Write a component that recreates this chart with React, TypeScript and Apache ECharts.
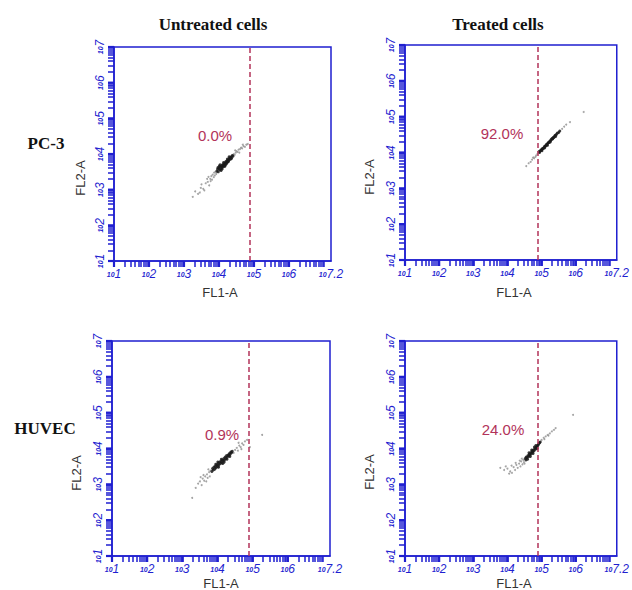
import React, { useEffect, useRef } from "react";
import * as echarts from "echarts";

// ---- data (exponents of 10) ----
const COL_TITLES = ["Untreated cells", "Treated cells"];
const ROW_TITLES = ["PC-3", "HUVEC"];
const PERCENTS = ["0.0%", "92.0%", "0.9%", "24.0%"];
const GATE_X = 4.89;
const X_LABEL_EXPS = [1, 2, 3, 4, 5, 6, 7.2];
const Y_LABEL_EXPS = [1, 2, 3, 4, 5, 6, 7];

const pc3UntreatedHalo = [
  [3.25, 2.8], [3.32, 2.95], [3.4, 2.88], [3.48, 3.05], [3.55, 3.02], [3.5, 3.15], [3.62, 3.18], [3.58, 2.98],
  [3.68, 3.22], [3.72, 3.12], [3.45, 2.92], [3.66, 3.3], [3.75, 3.3], [3.78, 3.38], [3.8, 3.28], [3.82, 3.42],
  [3.85, 3.35], [3.86, 3.48], [3.88, 3.4], [3.9, 3.5], [3.92, 3.44], [3.7, 3.36], [3.76, 3.24],
  [4.42, 4.0], [4.45, 3.98], [4.48, 4.04], [4.5, 4.08], [4.53, 4.06], [4.56, 4.12], [4.6, 4.14], [4.63, 4.18],
  [4.66, 4.16], [4.7, 4.22], [4.74, 4.2], [4.78, 4.26], [4.82, 4.28], [4.46, 4.1], [4.58, 4.04], [4.68, 4.26],
];
const pc3UntreatedCore = [
  [3.94, 3.52], [3.96, 3.58], [3.98, 3.5], [4.0, 3.6], [4.02, 3.56], [4.04, 3.64], [4.05, 3.58], [4.07, 3.66],
  [4.08, 3.62], [4.1, 3.7], [4.11, 3.64], [4.12, 3.68], [4.14, 3.72], [4.15, 3.66], [4.16, 3.74], [4.18, 3.7],
  [4.19, 3.78], [4.2, 3.74], [4.22, 3.8], [4.23, 3.76], [4.25, 3.82], [4.26, 3.78], [4.28, 3.86], [4.3, 3.84],
  [4.31, 3.88], [4.33, 3.9], [4.35, 3.92], [4.36, 3.88], [4.38, 3.96], [4.4, 3.94], [4.01, 3.66], [4.09, 3.58],
  [4.13, 3.76], [4.17, 3.66], [4.21, 3.72], [4.24, 3.86], [4.27, 3.8], [4.29, 3.92], [4.34, 3.86], [3.97, 3.62],
  [4.06, 3.54], [4.03, 3.7],
];
const pc3TreatedHalo = [
  [4.55, 3.62], [4.62, 3.7], [4.68, 3.74], [4.72, 3.8], [4.78, 3.84], [4.84, 3.92], [4.88, 3.96], [5.6, 4.66],
  [5.66, 4.72], [5.72, 4.78], [5.83, 4.85], [6.23, 5.13], [4.75, 3.86], [4.82, 3.88],
];
const pc3TreatedCore = [
  [4.92, 4.02], [4.95, 4.04], [4.98, 4.06], [5.0, 4.08], [5.02, 4.1], [5.04, 4.12], [5.06, 4.12], [5.08, 4.16],
  [5.1, 4.18], [5.12, 4.18], [5.14, 4.22], [5.16, 4.22], [5.18, 4.26], [5.2, 4.28], [5.22, 4.28], [5.24, 4.32],
  [5.26, 4.32], [5.28, 4.36], [5.3, 4.38], [5.32, 4.38], [5.34, 4.42], [5.36, 4.42], [5.38, 4.46], [5.4, 4.48],
  [5.43, 4.5], [5.46, 4.54], [5.5, 4.56], [5.53, 4.6], [4.94, 4.0], [5.01, 4.05], [5.09, 4.13], [5.17, 4.2],
  [5.25, 4.29], [5.33, 4.4], [5.41, 4.45],
];
const huvecUntreatedHalo = [
  [3.28, 2.62], [3.38, 2.9], [3.45, 3.02], [3.5, 3.08], [3.55, 2.98], [3.58, 3.16], [3.62, 3.1], [3.65, 3.22],
  [3.68, 3.08], [3.7, 3.28], [3.72, 3.18], [3.76, 3.34], [3.78, 3.22], [3.8, 3.38], [3.6, 3.26], [3.52, 3.2],
  [3.74, 3.42], [4.5, 3.96], [4.55, 4.02], [4.58, 3.94], [4.62, 4.08], [4.66, 4.04], [4.7, 4.14], [4.74, 4.1],
  [4.78, 4.2], [4.84, 4.24], [4.92, 4.04], [5.27, 4.38], [4.6, 4.16], [4.68, 3.98], [4.46, 3.88],
];
const huvecUntreatedCore = [
  [3.84, 3.36], [3.86, 3.44], [3.88, 3.4], [3.9, 3.48], [3.92, 3.42], [3.94, 3.5], [3.96, 3.46], [3.98, 3.54],
  [4.0, 3.5], [4.02, 3.58], [4.04, 3.54], [4.06, 3.62], [4.08, 3.58], [4.1, 3.64], [4.12, 3.6], [4.14, 3.68],
  [4.16, 3.66], [4.18, 3.72], [4.2, 3.68], [4.22, 3.76], [4.24, 3.72], [4.26, 3.8], [4.28, 3.76], [4.3, 3.82],
  [4.32, 3.8], [4.34, 3.86], [4.36, 3.84], [4.38, 3.9], [4.4, 3.88], [4.42, 3.92], [3.95, 3.56], [4.03, 3.48],
  [4.11, 3.7], [4.19, 3.62], [4.27, 3.7], [4.35, 3.78], [4.01, 3.62], [4.15, 3.58],
];
const huvecTreatedHalo = [
  [3.79, 3.46], [3.9, 3.4], [4.0, 3.44], [4.08, 3.36], [4.13, 3.32], [4.18, 3.48], [4.22, 3.4], [4.26, 3.54],
  [4.3, 3.46], [4.34, 3.58], [4.38, 3.5], [4.4, 3.64], [4.44, 3.56], [4.46, 3.68], [4.48, 3.62], [4.36, 3.66],
  [4.24, 3.6], [4.12, 3.52], [3.95, 3.5], [4.05, 3.3], [4.5, 3.58], [4.42, 3.72], [5.0, 4.24], [5.06, 4.3],
  [5.12, 4.34], [5.18, 4.38], [5.24, 4.42], [5.3, 4.48], [5.36, 4.52], [5.41, 4.57], [5.92, 4.94], [5.08, 4.26],
  [5.2, 4.36],
];
const huvecTreatedCore = [
  [4.52, 3.72], [4.55, 3.76], [4.57, 3.74], [4.6, 3.8], [4.62, 3.78], [4.64, 3.84], [4.66, 3.82], [4.68, 3.88],
  [4.7, 3.86], [4.72, 3.92], [4.74, 3.9], [4.76, 3.96], [4.78, 3.94], [4.8, 4.0], [4.82, 3.98], [4.84, 4.04],
  [4.86, 4.04], [4.88, 4.08], [4.9, 4.1], [4.92, 4.14], [4.94, 4.16], [4.96, 4.18], [4.59, 3.7], [4.67, 3.78],
  [4.75, 3.86], [4.83, 4.08], [4.71, 3.96], [4.63, 3.88], [4.79, 4.04], [4.87, 4.0], [4.54, 3.68],
];

const HALOS = [pc3UntreatedHalo, pc3TreatedHalo, huvecUntreatedHalo, huvecTreatedHalo];
const CORES = [pc3UntreatedCore, pc3TreatedCore, huvecUntreatedCore, huvecTreatedCore];

// ---- styling / layout ----
const BLUE = "#1f1fd0";
const GATE = "#b2335a";
const GRIDS = [
  { left: 114, top: 47, width: 217, height: 214 },
  { left: 405, top: 45, width: 218, height: 215 },
  { left: 112, top: 341, width: 218, height: 215 },
  { left: 405, top: 341, width: 218, height: 215 },
];

// log-decade tick positions (exponent values): 10^d * k
function logTickExps(maxExp: number): number[] {
  const out: number[] = [];
  for (let d = 1; d <= 7; d++) {
    for (let k = 1; k <= 9; k++) {
      const v = d + Math.log10(k);
      if (v <= maxExp + 1e-9) out.push(v);
    }
  }
  return out;
}

const labelRich = {
  s: { fontSize: 7, color: BLUE, fontStyle: "italic", fontWeight: "bold", fontFamily: "Liberation Sans" },
  e: { fontSize: 12, color: BLUE, fontStyle: "italic", fontFamily: "Liberation Sans" },
};
const makeFmt = (allowed: number[]) => (v: number) => {
  const r = Math.round(v * 10) / 10;
  return allowed.some((a) => Math.abs(a - r) < 1e-6) ? `{s|10}{e|${r}}` : "";
};

export default function App() {
  const ref = useRef<HTMLDivElement>(null);
  useEffect(() => {
    document.body.style.margin = "0";
    if (!ref.current) return;
    const chart = echarts.init(ref.current, null, { renderer: "svg" });

    const xAxis = GRIDS.map((_, i) => ({
      type: "value",
      gridIndex: i,
      min: 1,
      max: 7.2,
      interval: 1,
      axisLine: { show: true, onZero: false, lineStyle: { color: BLUE, width: 1.5 } },
      axisTick: { show: true, inside: false, length: 6, customValues: logTickExps(7.2), lineStyle: { color: BLUE, width: 1.5 } },
      axisLabel: { show: true, formatter: makeFmt(X_LABEL_EXPS), rich: labelRich, margin: 7, showMinLabel: true, showMaxLabel: true },
      splitLine: { show: false },
    }));
    const yAxis = GRIDS.map((_, i) => ({
      type: "value",
      gridIndex: i,
      min: 1,
      max: 7,
      interval: 1,
      axisLine: { show: true, onZero: false, lineStyle: { color: BLUE, width: 1.5 } },
      axisTick: { show: true, inside: false, length: 6, customValues: logTickExps(7), lineStyle: { color: BLUE, width: 1.5 } },
      axisLabel: { show: true, rotate: 90, formatter: makeFmt(Y_LABEL_EXPS), rich: labelRich, margin: 8, showMinLabel: true, showMaxLabel: true },
      splitLine: { show: false },
    }));

    const series: any[] = [];
    GRIDS.forEach((_, i) => {
      // major decade ticks drawn a little heavier, through the axis scale
      series.push({
        type: "custom",
        xAxisIndex: i,
        yAxisIndex: i,
        data: X_LABEL_EXPS.filter((v) => Number.isInteger(v)).map((v) => [v, 1]),
        renderItem: (_p: any, api: any) => {
          const pt = api.coord([api.value(0), 1]);
          return { type: "line", shape: { x1: pt[0], y1: pt[1], x2: pt[0], y2: pt[1] + 6 }, style: { stroke: BLUE, lineWidth: 2.2 } };
        },
      });
      series.push({
        type: "custom",
        xAxisIndex: i,
        yAxisIndex: i,
        data: Y_LABEL_EXPS.map((v) => [1, v]),
        renderItem: (_p: any, api: any) => {
          const pt = api.coord([1, api.value(1)]);
          return { type: "line", shape: { x1: pt[0] - 6, y1: pt[1], x2: pt[0], y2: pt[1] }, style: { stroke: BLUE, lineWidth: 2.2 } };
        },
      });
      series.push({
        type: "scatter",
        xAxisIndex: i,
        yAxisIndex: i,
        data: HALOS[i],
        symbolSize: 2,
        itemStyle: { color: "#8f8f8f" },
      });
      series.push({
        type: "scatter",
        xAxisIndex: i,
        yAxisIndex: i,
        data: CORES[i],
        symbolSize: 3,
        itemStyle: { color: "#1a1a1a", opacity: 0.85 },
        markLine: {
          symbol: "none",
          label: { show: false },
          lineStyle: { type: [5, 3], color: GATE, width: 1.5 },
          data: [{ xAxis: GATE_X }],
        },
      });
    });

    const txt = (text: string, x: number, y: number, font: string, fill: string, rotation = 0) => ({
      type: "text",
      x,
      y,
      rotation,
      style: { text, font, fill, textAlign: "center", textVerticalAlign: "middle" },
    });

    const serifBold = 'bold 17px "Liberation Serif", "DejaVu Serif", serif';
    const sans = '13px "Liberation Sans", Arial, sans-serif';
    const pctFont = '15px "Liberation Sans", Arial, sans-serif';
    const graphic = [
      txt(COL_TITLES[0], 213, 24, serifBold, "#111"),
      txt(COL_TITLES[1], 498, 24, serifBold, "#111"),
      txt(ROW_TITLES[0], 46, 143, serifBold, "#111"),
      txt(ROW_TITLES[1], 45, 428, serifBold, "#111"),
      txt("FL1-A", 220, 292, sans, "#333"),
      txt("FL1-A", 514, 292, sans, "#333"),
      txt("FL1-A", 221, 583, sans, "#333"),
      txt("FL1-A", 514, 583, sans, "#333"),
      txt("FL2-A", 80, 178, sans, "#333", Math.PI / 2),
      txt("FL2-A", 369, 177, sans, "#333", Math.PI / 2),
      txt("FL2-A", 76, 473, sans, "#333", Math.PI / 2),
      txt("FL2-A", 369, 472, sans, "#333", Math.PI / 2),
      txt(PERCENTS[0], 215, 135, pctFont, GATE),
      txt(PERCENTS[1], 502, 133, pctFont, GATE),
      txt(PERCENTS[2], 222, 434, pctFont, GATE),
      txt(PERCENTS[3], 503, 429, pctFont, GATE),
    ];

    chart.setOption({
      animation: false,
      grid: GRIDS.map((g) => ({ ...g, show: true, borderColor: BLUE, borderWidth: 1.5 })),
      xAxis,
      yAxis,
      series,
      graphic,
    });
    return () => chart.dispose();
  }, []);
  return <div ref={ref} style={{ width: 632, height: 590 }} />;
}
